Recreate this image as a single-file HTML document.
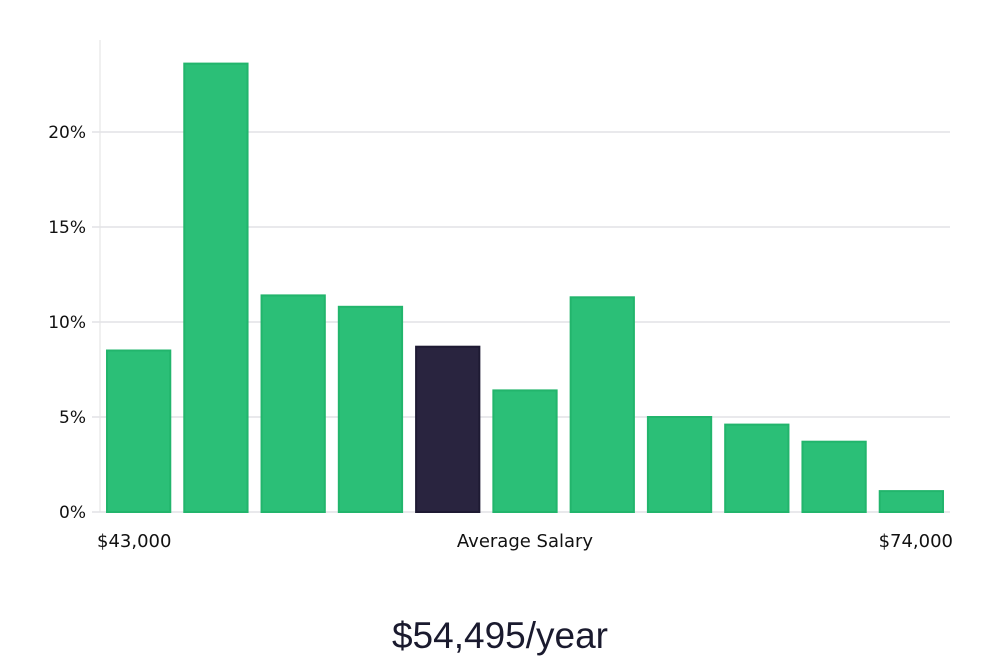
<!DOCTYPE html>
<html><head><meta charset="utf-8"><style>
html,body{margin:0;padding:0;background:#fff;}
body{width:1000px;height:660px;overflow:hidden;font-family:"Liberation Sans","DejaVu Sans",sans-serif;}
svg text{font-family:"DejaVu Sans","Liberation Sans",sans-serif;}
</style></head><body>
<svg id="chart" width="1000" height="660" xmlns="http://www.w3.org/2000/svg">
<g id="grid"></g><g id="bars"></g><g id="labels"></g>
<text x="500" y="648" text-anchor="middle" font-size="37" fill="#1a1a2e" style="font-family:'Liberation Sans',sans-serif;font-weight:300">$54,495/year</text>
</svg>
<script>
const categories=["b1","b2","b3","b4","b5","b6","b7","b8","b9","b10","b11"];
const values=[8.5,23.6,11.4,10.8,8.7,6.4,11.3,5.0,4.6,3.7,1.1];
const highlightIndex=4;
const yTicks=[0,5,10,15,20];
const xLabels=["$43,000","Average Salary","$74,000"];
const NS="http://www.w3.org/2000/svg";
const x0=100,x1=950,yBase=512,pxPerPct=19;
const y=v=>yBase-v*pxPerPct;
const step=(x1-x0)/categories.length;
const bx=i=>x0+7+i*step;
function mk(t,a,p){const e=document.createElementNS(NS,t);for(const k in a)e.setAttribute(k,a[k]);p.appendChild(e);return e;}
const grid=document.getElementById('grid'),bars=document.getElementById('bars'),labels=document.getElementById('labels');
const ax=mk('line',{x1:x0,x2:x0,y1:40,y2:yBase,stroke:'#e2e2e2','stroke-width':1},grid);


yTicks.forEach(t=>{
  const l=mk('line',{x1:x0-8,x2:x1,y1:y(t),y2:y(t),stroke:'#e2e2e6','stroke-width':1.5},grid);
  
  
  const tx=mk('text',{x:x0-14,y:y(t)+6,'text-anchor':'end','font-size':17,fill:'#111'},labels);
  tx.textContent=t+'%';
  
  
});
values.forEach((v,i)=>{
  const hi=i===highlightIndex;
  const r=mk('rect',{x:bx(i),y:y(v),width:step-14,height:yBase-y(v),fill:hi?'#29243f':'#2bbf77',stroke:hi?'#1e1a33':'#22b56c','stroke-width':2},bars);
  
  
});
const xl=[[97,'start'],[525,'middle'],[953,'end']];
xLabels.forEach((s,i)=>{
  const t=mk('text',{x:xl[i][0],y:547,'text-anchor':xl[i][1],'font-size':18,fill:'#111'},labels);
  t.textContent=s;
  
  
});
</script>
</body></html>
